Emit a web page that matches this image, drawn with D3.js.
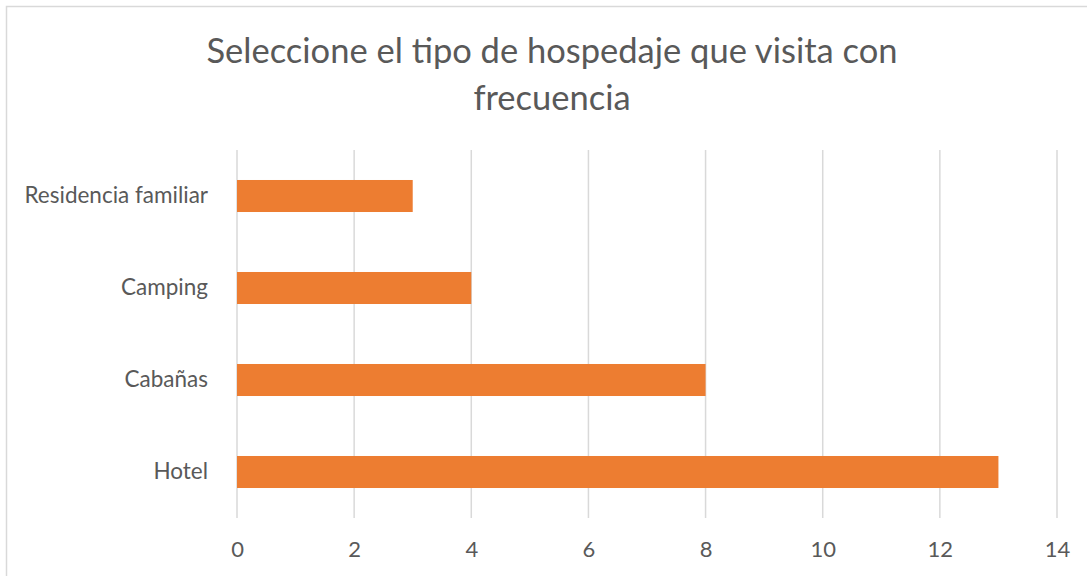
<!DOCTYPE html>
<html>
<head>
<meta charset="utf-8">
<script src="https://cdn.jsdelivr.net/npm/d3@7"></script>
<style>
  html, body { margin: 0; padding: 0; background: #fff; }
  svg { display: block; }
  text { font-family: Lato, "Open Sans", sans-serif; fill: #595959; }
</style>
</head>
<body>
<svg id="chart" width="1087" height="576"></svg>
<script>
const categories = ["Residencia familiar", "Camping", "Cabañas", "Hotel"];
const values = [3, 4, 8, 13];
const xTicks = [0, 2, 4, 6, 8, 10, 12, 14];
const titleLines = ["Seleccione el tipo de hospedaje que visita con", "frecuencia"];

const svg = d3.select("#chart");
const W = 1087, H = 576;
const plot = { left: 237, right: 1057, top: 150, bottom: 518 };

// outer border
svg.append("rect")
  .attr("x", 6.5).attr("y", 6.5)
  .attr("width", W + 20).attr("height", H + 20)
  .attr("fill", "#fff").attr("stroke", "#D9D9D9").attr("stroke-width", 1.5);

const x = d3.scaleLinear().domain([0, 14]).range([plot.left, plot.right]);
const y = d3.scaleBand().domain(categories).range([plot.top, plot.bottom])
  .paddingInner(0.652).paddingOuter(0.326);

// gridlines
svg.append("g").selectAll("line").data(xTicks).join("line")
  .attr("x1", d => x(d)).attr("x2", d => x(d))
  .attr("y1", plot.top).attr("y2", plot.bottom)
  .attr("stroke", "#D9D9D9").attr("stroke-width", 1.5);

// bars
svg.append("g").selectAll("rect").data(categories).join("rect")
  .attr("x", x(0))
  .attr("y", d => y(d))
  .attr("width", (d, i) => x(values[i]) - x(0))
  .attr("height", y.bandwidth())
  .attr("fill", "#ED7D31");

// x tick labels
const xAxis = d3.axisBottom(x).tickValues(xTicks).tickSize(0).tickPadding(0);
const gx = svg.append("g").attr("transform", `translate(0, 541)`).call(xAxis);
gx.select(".domain").remove();
gx.selectAll("text").attr("font-size", 22).attr("fill", "#595959")
  .attr("font-family", "Lato, 'Open Sans', sans-serif").attr("dy", "0.71em");

// category labels
const yAxis = d3.axisLeft(y).tickSize(0).tickPadding(0);
const gy = svg.append("g").attr("transform", `translate(208, 0)`).call(yAxis);
gy.select(".domain").remove();
gy.selectAll("text").attr("font-size", 22.5).attr("fill", "#595959")
  .attr("font-family", "Lato, 'Open Sans', sans-serif");

// title
svg.append("g").selectAll("text").data(titleLines).join("text")
  .attr("x", 552)
  .attr("y", (d, i) => 63 + i * 47)
  .attr("text-anchor", "middle")
  .attr("font-size", 34.5)
  .text(d => d);
</script>
</body>
</html>
